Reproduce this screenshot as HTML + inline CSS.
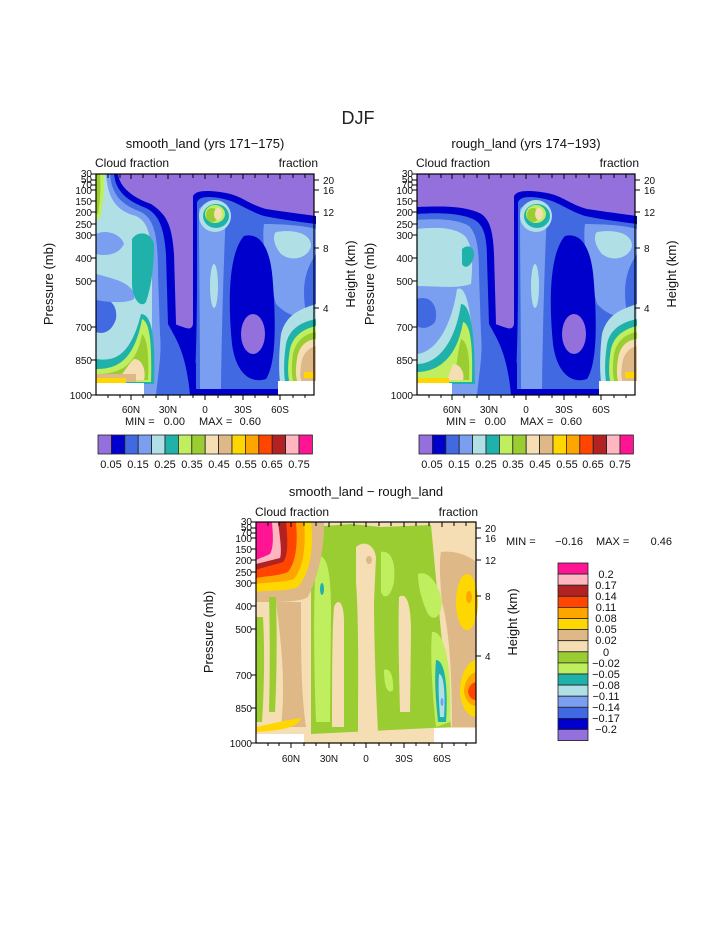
<!DOCTYPE html>
<html><head><meta charset="utf-8"><style>
body{margin:0;background:#fff;}
svg{display:block;font-family:"Liberation Sans",sans-serif;}
</style></head><body>
<svg width="723" height="935" viewBox="0 0 723 935" xmlns="http://www.w3.org/2000/svg">
<defs>
<g id="sh">
  <path d="M97,22 C100,16 112,16 130,19 C146,22 152,30 170,35 C190,38 205,40 220,42 L220,221 L75,221 L75,150 C85,150 95,160 97,150 Z" fill="#0000cd"/>
  <path d="M101,28 C104,22 114,22 128,25 C142,28 150,36 168,42 C188,46 205,48 220,50 L220,221 L98,221 C100,190 101,150 101,100 Z" fill="#4169e1"/>
  <path d="M103,35 C108,28 124,28 130,38 C128,80 126,140 125,215 L104,215 C104,150 103,90 103,35 Z" fill="#7b9ff0"/>
  <path d="M168,50 C190,50 210,52 220,55 L220,80 C210,95 205,110 210,140 C200,145 190,140 180,130 C172,100 165,70 168,50 Z" fill="#7b9ff0"/>
  <path d="M180,58 C200,55 215,60 215,72 C212,85 195,88 185,80 C178,72 176,62 180,58 Z" fill="#b0e0e6"/>
  <ellipse cx="118" cy="112" rx="4" ry="22" fill="#b0e0e6"/>
  <ellipse cx="119" cy="42" rx="16" ry="16" fill="#b0e0e6"/>
  <ellipse cx="120" cy="42" rx="13" ry="12" fill="#20b2aa"/>
  <ellipse cx="119" cy="40" rx="10" ry="9" fill="#bfee5f"/>
  <ellipse cx="116" cy="41" rx="6" ry="7" fill="#9acd32"/>
  <ellipse cx="122" cy="40" rx="4" ry="6" fill="#f5deb3"/>
  <path d="M148,62 C165,58 175,75 177,110 C180,150 180,190 170,205 C155,210 140,200 136,170 C132,130 132,80 148,62 Z" fill="#0000cd"/>
  <ellipse cx="157" cy="160" rx="12" ry="20" fill="#9370db"/>
  <path d="M220,130 C205,135 190,140 185,160 C182,185 183,205 185,215 L220,215 Z" fill="#b0e0e6"/>
  <path d="M220,145 C205,148 193,155 190,170 C187,190 188,205 190,212 L220,212 Z" fill="#20b2aa"/>
  <path d="M220,152 C207,155 197,162 194,175 C191,192 192,205 194,210 L220,210 Z" fill="#bfee5f"/>
  <path d="M220,158 C208,160 200,167 197,180 C195,195 196,205 198,210 L220,210 Z" fill="#9acd32"/>
  <path d="M220,165 C210,166 203,172 201,185 C199,197 200,205 202,209 L220,209 Z" fill="#f5deb3"/>
  <path d="M220,172 C212,174 206,180 205,192 C204,200 204,206 206,208 L220,208 Z" fill="#deb887"/>
  <rect x="208" y="198" width="10" height="6" fill="#ffd700"/>
  <rect x="48" y="215" width="134" height="6" fill="#0000cd"/>
  <rect x="0" y="209" width="48" height="12" fill="#fff"/>
  <rect x="182" y="207" width="38" height="14" fill="#fff"/>
</g>
</defs>

<text x="358" y="124" font-size="18" text-anchor="middle" fill="#222">DJF</text>

<g transform="translate(96,174)">
  <rect width="218" height="221" fill="#9370db"/>
  <use href="#sh"/>
  <path d="M0,0 L22,0 C24,15 40,25 55,30 C70,40 76,50 78,80 L80,150 C88,160 95,170 100,190 L100,221 L0,221 Z" fill="#0000cd"/>
  <path d="M0,0 L18,0 C20,20 35,28 50,34 C62,40 68,52 70,80 L72,150 C80,165 90,178 94,221 L0,221Z" fill="#4169e1"/>
  <path d="M0,0 L14,0 C16,25 30,32 45,38 C58,45 62,60 62,100 L64,160 C66,180 62,200 60,221 L0,221Z" fill="#7b9ff0"/>
  <path d="M0,0 L10,0 C12,30 25,38 40,42 C52,48 56,60 56,100 L56,160 L50,210 L0,210 Z" fill="#b0e0e6"/>
  <path d="M0,60 C10,55 25,60 28,70 C22,82 8,82 0,80 Z" fill="#7b9ff0"/>
  <path d="M0,125 C12,122 22,130 20,145 C15,160 5,160 0,158 Z" fill="#4169e1"/>
  <path d="M0,100 C20,105 40,110 38,125 C30,130 10,128 0,126 Z" fill="#7b9ff0"/>
  <path d="M36,65 C42,56 55,58 58,70 C58,90 56,110 50,128 C45,135 36,125 36,110 Z" fill="#20b2aa"/>
  <path d="M45,140 C55,140 60,160 58,210 L0,210 L0,185 C20,188 35,180 45,140 Z" fill="#20b2aa"/>
  <path d="M46,145 C54,148 56,170 55,208 L0,208 L0,195 C20,195 38,188 46,145 Z" fill="#bfee5f"/>
  <path d="M46,160 C52,165 53,185 52,206 L0,206 L0,200 C20,200 40,195 46,160 Z" fill="#9acd32"/>
  <path d="M38,185 C48,185 50,200 48,206 L20,206 C28,200 32,190 38,185 Z" fill="#f5deb3"/>
  <path d="M0,200 L40,200 L40,208 L0,208 Z" fill="#deb887"/>
  <path d="M0,204 L30,204 L30,210 L0,210 Z" fill="#ffd700"/>
  <path d="M0,0 L8,0 C9,15 7,30 4,45 L0,45 Z" fill="#bfee5f"/>
  <path d="M0,0 L4,0 C5,15 4,28 2,40 L0,40 Z" fill="#9acd32"/>
  <rect x="0" y="209" width="48" height="12" fill="#fff"/>
</g>
<g transform="translate(417,174)">
  <rect width="218" height="221" fill="#9370db"/>
  <use href="#sh"/>
  <path d="M0,33 C25,32 45,32 60,38 C72,42 76,55 77,80 L79,150 C88,160 95,170 100,190 L100,221 L0,221 Z" fill="#0000cd"/>
  <path d="M0,40 C25,38 45,40 56,45 C66,50 70,60 70,85 L72,150 C80,165 90,178 94,221 L0,221Z" fill="#4169e1"/>
  <path d="M0,46 C25,44 42,46 52,52 C60,60 62,75 62,100 L64,160 C66,180 62,200 60,221 L0,221Z" fill="#7b9ff0"/>
  <path d="M0,55 C25,52 40,55 48,62 C56,72 56,90 54,110 C40,115 20,112 0,112 Z" fill="#b0e0e6"/>
  <path d="M45,75 C50,70 58,72 57,82 C55,92 48,96 45,90 Z" fill="#20b2aa"/>
  <path d="M0,125 C15,120 22,135 18,148 C12,155 4,155 0,152 Z" fill="#4169e1"/>
  <path d="M40,115 C50,110 56,140 58,210 L0,210 L0,180 C20,178 35,150 40,115 Z" fill="#b0e0e6"/>
  <path d="M44,130 C54,130 58,160 58,210 L0,210 L0,190 C20,190 38,170 44,130 Z" fill="#20b2aa"/>
  <path d="M46,148 C54,150 56,175 55,208 L0,208 L0,198 C20,198 40,185 46,148 Z" fill="#bfee5f"/>
  <path d="M44,165 C52,168 53,190 52,206 L36,206 C40,195 40,180 44,165 Z" fill="#9acd32"/>
  <path d="M36,190 C44,190 48,200 46,206 L30,206 Z" fill="#f5deb3"/>
  <rect x="0" y="204" width="32" height="5" fill="#ffd700"/>
  <rect x="0" y="209" width="35" height="12" fill="#fff"/>
</g>

<g transform="translate(256,522)">
  <rect width="220" height="221" fill="#f5deb3"/>
  <path d="M55,5 L95,2 L125,5 L175,3 L185,110 L195,205 L55,212 Z" fill="#9acd32"/>
  <path d="M60,35 C70,30 75,45 75,90 L74,200 L60,200 C58,150 57,80 60,35 Z" fill="#bfee5f"/>
  <ellipse cx="66" cy="67" rx="2" ry="6" fill="#20b2aa"/>
  <path d="M78,85 C82,75 88,80 88,100 L88,205 L76,205 C76,160 76,110 78,85 Z" fill="#f5deb3"/>
  <path d="M100,25 C108,18 118,22 120,35 L118,80 C118,120 120,170 122,210 L102,210 C102,160 103,100 100,60 Z" fill="#f5deb3"/>
  <ellipse cx="113" cy="38" rx="3" ry="4" fill="#deb887"/>
  <path d="M125,30 C135,28 140,40 138,60 C135,75 128,78 125,70 Z" fill="#bfee5f"/>
  <path d="M143,75 C150,70 155,80 155,110 L154,190 L144,190 C143,150 142,110 143,75 Z" fill="#f5deb3"/>
  <path d="M128,148 C134,145 138,155 137,168 C133,172 128,168 128,148 Z" fill="#bfee5f"/>
  <path d="M162,52 C172,48 182,60 186,80 C185,95 178,100 172,92 C166,80 162,65 162,52 Z" fill="#bfee5f"/>
  <path d="M185,30 C200,28 215,35 220,40 L220,205 L196,205 C196,160 194,110 186,80 C184,60 183,40 185,30 Z" fill="#deb887"/>
  <path d="M176,110 C190,108 196,150 194,200 L180,205 C176,170 174,130 176,110 Z" fill="#bfee5f"/>
  <path d="M180,138 C190,138 192,170 190,200 L182,200 C180,180 178,160 180,138 Z" fill="#20b2aa"/>
  <path d="M183,152 C189,152 189,180 188,195 L184,195 C183,180 182,165 183,152 Z" fill="#b0e0e6"/>
  <ellipse cx="186" cy="180" rx="1.5" ry="4" fill="#7b9ff0"/>
  <ellipse cx="211" cy="80" rx="11" ry="28" fill="#ffd700"/>
  <ellipse cx="213" cy="75" rx="3" ry="6" fill="#ffa500"/>
  <path d="M220,138 C210,140 204,155 204,170 C205,185 212,195 220,195 Z" fill="#ffd700"/>
  <path d="M220,150 C212,152 208,162 208,170 C209,178 214,184 220,184 Z" fill="#ffa500"/>
  <path d="M220,160 C215,161 212,166 212,170 C213,175 216,178 220,178 Z" fill="#ff4500"/>
  <path d="M0,0 L68,0 C68,20 66,45 52,75 C45,80 25,80 0,80 Z" fill="#deb887"/>
  <path d="M20,80 L45,80 C45,130 45,170 50,205 L25,205 C30,160 25,120 20,80 Z" fill="#deb887"/>
  <path d="M0,95 L7,95 C9,130 8,170 6,200 L0,200 Z" fill="#9acd32"/>
  <path d="M13,75 L20,75 C21,110 21,150 19,190 L13,190 C14,150 14,110 13,75 Z" fill="#9acd32"/>
  <path d="M0,0 L55,0 C58,22 55,50 42,65 C30,70 10,68 0,70 Z" fill="#ffd700"/>
  <path d="M0,0 L48,0 C50,22 48,45 38,57 C25,61 10,60 0,62 Z" fill="#ffa500"/>
  <path d="M0,0 L40,0 C42,22 40,40 32,50 C22,54 10,54 0,56 Z" fill="#ff4500"/>
  <path d="M0,0 L30,0 C32,20 32,35 27,40 C18,43 8,45 0,48 Z" fill="#b22222"/>
  <path d="M0,0 L22,0 C24,15 26,30 24,36 C16,38 8,40 0,42 Z" fill="#ffb6c1"/>
  <path d="M0,0 L16,0 C17,12 18,25 14,32 C8,35 4,36 0,38 Z" fill="#ff1493"/>
  <path d="M0,205 C15,202 30,198 45,196 C42,205 30,208 0,210 Z" fill="#ffd700"/>
  <rect x="0" y="212" width="48" height="9" fill="#fff"/>
  <rect x="178" y="206" width="42" height="15" fill="#fff"/>
</g>

<g stroke="#000" fill="none" stroke-width="1.2">
  <rect x="96" y="174" width="218" height="221"/>
  <rect x="417" y="174" width="218" height="221"/>
  <rect x="256" y="522" width="220" height="221"/>
</g>

<g font-size="10" fill="#111" text-anchor="end">
  <text x="92" y="177">30</text><text x="92" y="183">50</text><text x="92" y="188">70</text>
  <text x="92" y="194">100</text><text x="92" y="205">150</text><text x="92" y="216">200</text>
  <text x="92" y="228">250</text><text x="92" y="239">300</text><text x="92" y="262">400</text>
  <text x="92" y="285">500</text><text x="92" y="331">700</text><text x="92" y="364">850</text>
  <text x="92" y="399">1000</text>
  <text x="413" y="177">30</text><text x="413" y="183">50</text><text x="413" y="188">70</text>
  <text x="413" y="194">100</text><text x="413" y="205">150</text><text x="413" y="216">200</text>
  <text x="413" y="228">250</text><text x="413" y="239">300</text><text x="413" y="262">400</text>
  <text x="413" y="285">500</text><text x="413" y="331">700</text><text x="413" y="364">850</text>
  <text x="413" y="399">1000</text>
  <text x="252" y="525">30</text><text x="252" y="531">50</text><text x="252" y="536">70</text>
  <text x="252" y="542">100</text><text x="252" y="553">150</text><text x="252" y="564">200</text>
  <text x="252" y="576">250</text><text x="252" y="587">300</text><text x="252" y="610">400</text>
  <text x="252" y="633">500</text><text x="252" y="679">700</text><text x="252" y="712">850</text>
  <text x="252" y="747">1000</text>
</g>
<g stroke="#000" stroke-width="1">
  <path d="M91,174h5M91,180h5M91,185h5M91,190h5M91,201h5M91,212h5M91,224h5M91,235h5M91,258h5M91,281h5M91,327h5M91,360h5M91,395h5"/>
  <path d="M412,174h5M412,180h5M412,185h5M412,190h5M412,201h5M412,212h5M412,224h5M412,235h5M412,258h5M412,281h5M412,327h5M412,360h5M412,395h5"/>
  <path d="M251,522h5M251,528h5M251,533h5M251,538h5M251,549h5M251,560h5M251,572h5M251,583h5M251,606h5M251,629h5M251,675h5M251,708h5M251,743h5"/>
  <path d="M314,180h5M314,190h5M314,212h5M314,248h5M314,308h5"/>
  <path d="M635,180h5M635,190h5M635,212h5M635,248h5M635,308h5"/>
  <path d="M476,528h5M476,538h5M476,560h5M476,596h5M476,656h5"/>
  <path d="M131,395v5M168,395v5M205,395v5M243,395v5M280,395v5"/>
  <path d="M452,395v5M489,395v5M526,395v5M564,395v5M601,395v5"/>
  <path d="M291,743v5M329,743v5M366,743v5M404,743v5M442,743v5"/>
  <path d="M108,395v3M120,395v3M143,395v3M156,395v3M180,395v3M193,395v3M218,395v3M231,395v3M255,395v3M268,395v3M293,395v3M305,395v3"/>
  <path d="M429,395v3M441,395v3M464,395v3M477,395v3M501,395v3M514,395v3M539,395v3M552,395v3M576,395v3M589,395v3M614,395v3M626,395v3"/>
  <path d="M268,743v3M279,743v3M304,743v3M316,743v3M341,743v3M354,743v3M379,743v3M391,743v3M416,743v3M429,743v3M454,743v3M466,743v3"/>
  <path d="M108,174v4M120,174v4M131,174v5M143,174v4M156,174v4M168,174v5M180,174v4M193,174v4M205,174v5M218,174v4M231,174v4M243,174v5M255,174v4M268,174v4M280,174v5M293,174v4M305,174v4"/>
  <path d="M429,174v4M441,174v4M452,174v5M464,174v4M477,174v4M489,174v5M501,174v4M514,174v4M526,174v5M539,174v4M552,174v4M564,174v5M576,174v4M589,174v4M601,174v5M614,174v4M626,174v4"/>
  <path d="M268,522v4M279,522v4M291,522v5M304,522v4M316,522v4M329,522v5M341,522v4M354,522v4M366,522v5M379,522v4M391,522v4M404,522v5M416,522v4M429,522v4M442,522v5M454,522v4M466,522v4"/>
</g>
<g font-size="10" fill="#111">
  <text x="323" y="184">20</text><text x="323" y="194">16</text><text x="323" y="216">12</text><text x="323" y="252">8</text><text x="323" y="312">4</text>
  <text x="644" y="184">20</text><text x="644" y="194">16</text><text x="644" y="216">12</text><text x="644" y="252">8</text><text x="644" y="312">4</text>
  <text x="485" y="532">20</text><text x="485" y="542">16</text><text x="485" y="564">12</text><text x="485" y="600">8</text><text x="485" y="660">4</text>
</g>
<g font-size="10" fill="#111" text-anchor="middle">
  <text x="131" y="413">60N</text><text x="168" y="413">30N</text><text x="205" y="413">0</text><text x="243" y="413">30S</text><text x="280" y="413">60S</text>
  <text x="452" y="413">60N</text><text x="489" y="413">30N</text><text x="526" y="413">0</text><text x="564" y="413">30S</text><text x="601" y="413">60S</text>
  <text x="291" y="762">60N</text><text x="329" y="762">30N</text><text x="366" y="762">0</text><text x="404" y="762">30S</text><text x="442" y="762">60S</text>
</g>
<g font-size="11" fill="#111">
  <text x="125" y="425">MIN =</text><text x="185" y="425" text-anchor="end">0.00</text><text x="199" y="425">MAX =</text><text x="261" y="425" text-anchor="end">0.60</text>
  <text x="446" y="425">MIN =</text><text x="506" y="425" text-anchor="end">0.00</text><text x="520" y="425">MAX =</text><text x="582" y="425" text-anchor="end">0.60</text>
  <text x="506" y="545">MIN =</text><text x="583" y="545" text-anchor="end">−0.16</text><text x="596" y="545">MAX =</text><text x="672" y="545" text-anchor="end">0.46</text>
</g>
<g font-size="13" fill="#111" text-anchor="middle">
  <text x="205" y="148">smooth_land (yrs 171−175)</text>
  <text x="526" y="148">rough_land (yrs 174−193)</text>
  <text x="366" y="496">smooth_land − rough_land</text>
</g>
<g font-size="12" fill="#111">
  <text x="95" y="167">Cloud fraction</text><text x="318" y="167" text-anchor="end">fraction</text>
  <text x="416" y="167">Cloud fraction</text><text x="639" y="167" text-anchor="end">fraction</text>
  <text x="255" y="516">Cloud fraction</text><text x="478" y="516" text-anchor="end">fraction</text>
</g>
<g font-size="13" fill="#111" text-anchor="middle">
  <text transform="translate(53,284) rotate(-90)">Pressure (mb)</text>
  <text transform="translate(374,284) rotate(-90)">Pressure (mb)</text>
  <text transform="translate(213,632) rotate(-90)">Pressure (mb)</text>
  <text transform="translate(355,274) rotate(-90)">Height (km)</text>
  <text transform="translate(676,274) rotate(-90)">Height (km)</text>
  <text transform="translate(517,622) rotate(-90)">Height (km)</text>
</g>

<g stroke="#222" stroke-width="0.8">
  <g id="hcb">
  <rect x="98" y="435" width="13.4" height="19" fill="#9370db"/>
  <rect x="111.4" y="435" width="13.4" height="19" fill="#0000cd"/>
  <rect x="124.8" y="435" width="13.4" height="19" fill="#4169e1"/>
  <rect x="138.2" y="435" width="13.4" height="19" fill="#7b9ff0"/>
  <rect x="151.6" y="435" width="13.4" height="19" fill="#b0e0e6"/>
  <rect x="165" y="435" width="13.4" height="19" fill="#20b2aa"/>
  <rect x="178.4" y="435" width="13.4" height="19" fill="#bfee5f"/>
  <rect x="191.8" y="435" width="13.4" height="19" fill="#9acd32"/>
  <rect x="205.2" y="435" width="13.4" height="19" fill="#f5deb3"/>
  <rect x="218.6" y="435" width="13.4" height="19" fill="#deb887"/>
  <rect x="232" y="435" width="13.4" height="19" fill="#ffd700"/>
  <rect x="245.4" y="435" width="13.4" height="19" fill="#ffa500"/>
  <rect x="258.8" y="435" width="13.4" height="19" fill="#ff4500"/>
  <rect x="272.2" y="435" width="13.4" height="19" fill="#b22222"/>
  <rect x="285.6" y="435" width="13.4" height="19" fill="#ffb6c1"/>
  <rect x="299" y="435" width="13.4" height="19" fill="#ff1493"/>
  </g>
  <use href="#hcb" transform="translate(321,0)"/>
</g>
<g font-size="11" fill="#111" text-anchor="middle">
  <text x="111" y="468">0.05</text><text x="138" y="468">0.15</text><text x="165" y="468">0.25</text><text x="192" y="468">0.35</text><text x="219" y="468">0.45</text><text x="246" y="468">0.55</text><text x="272" y="468">0.65</text><text x="299" y="468">0.75</text>
  <text x="432" y="468">0.05</text><text x="459" y="468">0.15</text><text x="486" y="468">0.25</text><text x="513" y="468">0.35</text><text x="540" y="468">0.45</text><text x="567" y="468">0.55</text><text x="593" y="468">0.65</text><text x="620" y="468">0.75</text>
</g>

<g stroke="#222" stroke-width="0.8">
  <rect x="558" y="563" width="30" height="11.1" fill="#ff1493"/>
  <rect x="558" y="574.1" width="30" height="11.1" fill="#ffb6c1"/>
  <rect x="558" y="585.2" width="30" height="11.1" fill="#b22222"/>
  <rect x="558" y="596.3" width="30" height="11.1" fill="#ff4500"/>
  <rect x="558" y="607.4" width="30" height="11.1" fill="#ffa500"/>
  <rect x="558" y="618.5" width="30" height="11.1" fill="#ffd700"/>
  <rect x="558" y="629.6" width="30" height="11.1" fill="#deb887"/>
  <rect x="558" y="640.7" width="30" height="11.1" fill="#f5deb3"/>
  <rect x="558" y="651.8" width="30" height="11.1" fill="#9acd32"/>
  <rect x="558" y="662.9" width="30" height="11.1" fill="#bfee5f"/>
  <rect x="558" y="674" width="30" height="11.1" fill="#20b2aa"/>
  <rect x="558" y="685.1" width="30" height="11.1" fill="#b0e0e6"/>
  <rect x="558" y="696.2" width="30" height="11.1" fill="#7b9ff0"/>
  <rect x="558" y="707.3" width="30" height="11.1" fill="#4169e1"/>
  <rect x="558" y="718.4" width="30" height="11.1" fill="#0000cd"/>
  <rect x="558" y="729.5" width="30" height="11.1" fill="#9370db"/>
</g>
<g font-size="11" fill="#111" text-anchor="middle">
  <text x="606" y="578">0.2</text><text x="606" y="589">0.17</text><text x="606" y="600">0.14</text><text x="606" y="611">0.11</text><text x="606" y="622">0.08</text><text x="606" y="633">0.05</text><text x="606" y="644">0.02</text><text x="606" y="656">0</text><text x="606" y="667">−0.02</text><text x="606" y="678">−0.05</text><text x="606" y="689">−0.08</text><text x="606" y="700">−0.11</text><text x="606" y="711">−0.14</text><text x="606" y="722">−0.17</text><text x="606" y="733">−0.2</text>
</g>
</svg>
</body></html>
